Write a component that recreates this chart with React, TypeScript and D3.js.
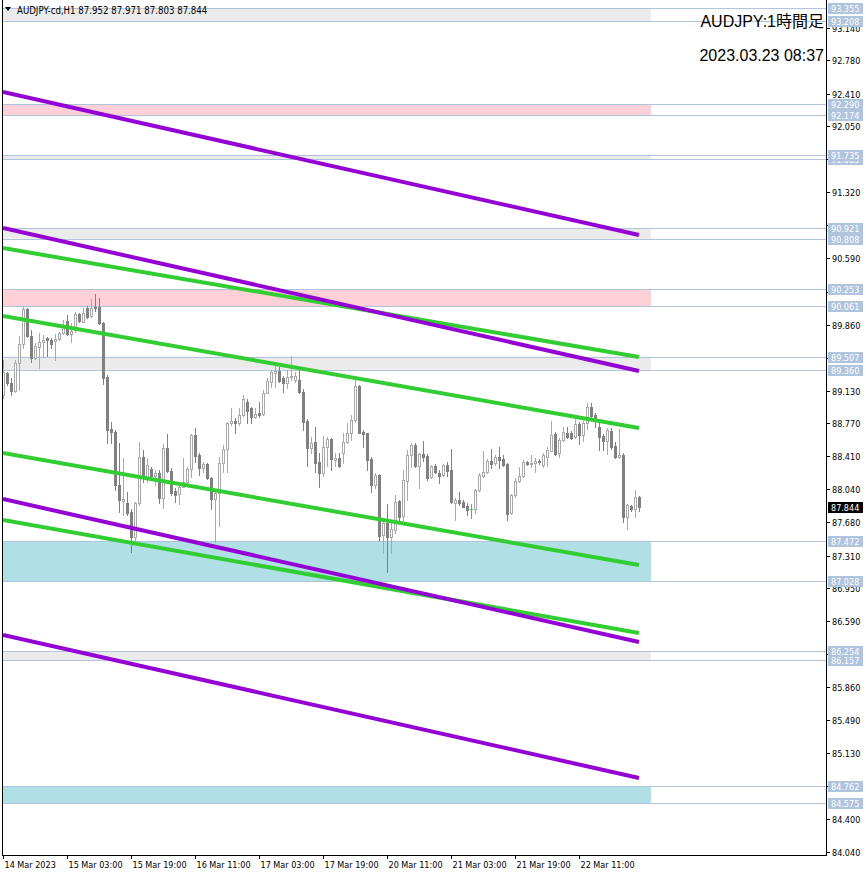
import React from 'react';
import * as d3 from 'd3';

// AUDJPY H1 bars, 14 Mar 11:00 .. 23 Mar 02:00 (server time)
const opens = [
  89.082, 89.322, 89.211, 89.127, 89.432, 89.642, 90.032, 89.738, 89.487, 89.616,
  89.671, 89.708, 89.690, 89.679, 89.701, 89.763, 89.900, 89.752, 89.837, 89.973,
  89.892, 90.039, 89.955, 90.058, 90.058, 89.874, 89.285, 88.707, 88.678, 88.089,
  87.912, 87.887, 87.787, 87.518, 87.887, 88.402, 88.181, 88.265, 88.192, 88.218,
  87.942, 88.494, 88.247, 88.023, 87.990, 88.071, 88.126, 88.262, 88.641, 88.420,
  88.280, 88.317, 88.163, 87.931, 87.997, 88.336, 88.483, 88.770, 88.799, 88.777,
  88.862, 89.009, 88.936, 88.844, 88.880, 88.873, 89.109, 89.230, 89.329, 89.351,
  89.267, 89.212, 89.278, 89.250, 89.248, 89.120, 88.799, 88.494, 88.568, 88.347,
  88.225, 88.505, 88.593, 88.365, 88.383, 88.446, 88.568, 88.660, 88.807, 89.182,
  88.678, 88.660, 88.372, 88.089, 88.199, 87.537, 87.673, 87.518, 87.593, 87.916,
  87.747, 88.137, 88.420, 88.531, 88.299, 88.431, 88.409, 88.174, 88.299, 88.225,
  88.200, 88.310, 88.254, 87.894, 87.924, 87.905, 87.857, 87.824, 87.820, 88.034,
  88.188, 88.236, 88.354, 88.328, 88.402, 88.372, 88.321, 87.776, 87.979, 88.137,
  88.188, 88.347, 88.321, 88.336, 88.358, 88.306, 88.402, 88.468, 88.652, 88.439,
  88.586, 88.667, 88.667, 88.615, 88.763, 88.641, 88.770, 88.954, 88.861, 88.733,
  88.630, 88.579, 88.689, 88.520, 88.395, 88.420, 87.732, 87.857, 87.828, 87.952,
];
const highs = [
  89.469, 89.340, 89.267, 89.469, 89.734, 90.058, 90.047, 89.800, 89.653, 89.763,
  89.745, 89.727, 89.708, 89.752, 89.782, 89.911, 89.966, 89.874, 89.995, 89.984,
  90.039, 90.069, 90.142, 90.194, 90.150, 89.885, 89.303, 88.781, 88.696, 88.549,
  88.383, 88.015, 87.824, 87.905, 88.567, 88.475, 88.383, 88.291, 88.254, 88.254,
  88.538, 88.648, 88.273, 88.052, 88.126, 88.384, 88.292, 88.652, 88.715, 88.439,
  88.347, 88.328, 88.181, 88.027, 88.395, 88.531, 88.788, 88.936, 88.825, 88.936,
  89.083, 89.035, 88.954, 88.936, 89.009, 89.138, 89.267, 89.359, 89.403, 89.396,
  89.293, 89.359, 89.513, 89.340, 89.351, 89.145, 88.814, 88.623, 88.726, 88.439,
  88.630, 88.623, 88.604, 88.439, 88.439, 88.660, 88.770, 88.862, 89.248, 89.193,
  88.696, 88.667, 88.402, 88.218, 88.210, 87.703, 87.879, 87.666, 87.979, 87.923,
  88.255, 88.476, 88.549, 88.549, 88.446, 88.575, 88.431, 88.310, 88.321, 88.255,
  88.321, 88.347, 88.483, 87.942, 88.016, 87.924, 87.894, 87.876, 88.041, 88.218,
  88.465, 88.373, 88.483, 88.420, 88.512, 88.420, 88.336, 87.990, 88.163, 88.292,
  88.365, 88.358, 88.420, 88.384, 88.380, 88.445, 88.505, 88.799, 88.678, 88.604,
  88.726, 88.726, 88.689, 88.814, 88.788, 88.799, 88.991, 88.991, 88.880, 88.814,
  88.652, 88.715, 88.715, 88.568, 88.704, 88.446, 87.879, 87.864, 88.034, 87.971,
];
const lows = [
  89.046, 89.193, 89.083, 89.119, 89.138, 89.598, 89.727, 89.451, 89.480, 89.377,
  89.506, 89.517, 89.598, 89.469, 89.690, 89.752, 89.745, 89.664, 89.774, 89.892,
  89.885, 89.936, 89.947, 90.010, 89.863, 89.200, 88.549, 88.549, 88.034, 87.795,
  87.758, 87.758, 87.353, 87.463, 87.868, 88.126, 88.126, 88.181, 88.089, 87.887,
  87.831, 88.236, 87.979, 87.905, 87.879, 88.063, 88.108, 88.181, 88.347, 88.200,
  88.236, 88.152, 87.820, 87.463, 87.636, 88.236, 88.236, 88.752, 88.660, 88.752,
  88.851, 88.770, 88.777, 88.825, 88.844, 88.862, 89.101, 89.175, 89.175, 89.230,
  89.120, 89.156, 89.248, 89.230, 89.109, 88.696, 88.299, 88.439, 88.236, 88.071,
  88.190, 88.299, 88.255, 88.299, 88.292, 88.328, 88.549, 88.586, 88.788, 88.660,
  88.512, 88.255, 88.015, 88.052, 87.482, 87.335, 87.132, 87.335, 87.556, 87.684,
  87.703, 87.924, 88.284, 88.284, 88.052, 88.358, 88.144, 88.163, 88.225, 88.115,
  88.188, 88.188, 87.887, 87.703, 87.868, 87.843, 87.758, 87.728, 87.776, 88.027,
  88.174, 88.218, 88.273, 88.310, 88.273, 88.299, 87.703, 87.769, 87.960, 88.126,
  88.181, 88.310, 88.284, 88.236, 88.320, 88.290, 88.299, 88.460, 88.420, 88.395,
  88.578, 88.604, 88.593, 88.604, 88.542, 88.579, 88.704, 88.814, 88.726, 88.476,
  88.476, 88.431, 88.483, 88.384, 88.384, 87.684, 87.600, 87.806, 87.732, 87.803,
];
const closes = [
  89.333, 89.211, 89.127, 89.432, 89.646, 90.032, 89.738, 89.487, 89.624, 89.664,
  89.690, 89.690, 89.642, 89.701, 89.763, 89.855, 89.752, 89.789, 89.973, 89.900,
  89.984, 89.947, 90.047, 90.039, 89.874, 89.274, 88.696, 88.678, 88.089, 87.923,
  87.934, 87.776, 87.518, 87.887, 88.402, 88.192, 88.310, 88.192, 88.218, 87.942,
  88.501, 88.247, 88.004, 87.979, 88.071, 88.126, 88.262, 88.641, 88.409, 88.273,
  88.317, 88.163, 87.931, 87.997, 88.336, 88.483, 88.770, 88.796, 88.777, 88.862,
  89.035, 88.910, 88.836, 88.873, 88.862, 89.109, 89.241, 89.340, 89.351, 89.241,
  89.212, 89.278, 89.293, 89.290, 89.120, 88.788, 88.494, 88.557, 88.336, 88.218,
  88.512, 88.593, 88.373, 88.383, 88.299, 88.568, 88.660, 88.807, 89.182, 88.667,
  88.652, 88.365, 88.089, 88.199, 87.526, 87.673, 87.511, 87.600, 87.905, 87.739,
  88.144, 88.420, 88.531, 88.299, 88.431, 88.402, 88.163, 88.299, 88.236, 88.188,
  88.310, 88.247, 87.905, 87.924, 87.894, 87.843, 87.813, 87.824, 88.034, 88.200,
  88.236, 88.354, 88.321, 88.402, 88.365, 88.310, 87.769, 87.979, 88.137, 88.188,
  88.347, 88.321, 88.336, 88.358, 88.342, 88.420, 88.476, 88.641, 88.431, 88.586,
  88.678, 88.623, 88.604, 88.763, 88.641, 88.770, 88.954, 88.851, 88.814, 88.623,
  88.579, 88.696, 88.512, 88.395, 88.420, 87.732, 87.868, 87.828, 87.952, 87.844,
];

const xTickLabels = [
  '14 Mar 2023', '15 Mar 03:00', '15 Mar 19:00', '16 Mar 11:00', '17 Mar 03:00',
  '17 Mar 19:00', '20 Mar 11:00', '21 Mar 03:00', '21 Mar 19:00', '22 Mar 11:00',
];
const xTickBars = [0, 16, 32, 48, 64, 80, 96, 112, 128, 144];

const yTickLabels = [
  '93.140', '92.780', '92.410', '92.050', '91.685', '91.320', '90.955', '90.590',
  '90.225', '89.860', '89.495', '89.130', '88.770', '88.410', '88.040', '87.680',
  '87.310', '86.950', '86.590', '86.225', '85.860', '85.490', '85.130', '84.765',
  '84.400', '84.040',
];

// horizontal zones: top / bottom price and kind
const zoneTops = [93.355, 92.290, 91.735, 90.921, 90.253, 89.507, 87.472, 86.254, 84.762];
const zoneBottoms = [93.208, 92.174, 91.685, 90.808, 90.061, 89.360, 87.028, 86.157, 84.575];
const zoneKinds = ['line', 'sell', 'line', 'line', 'sell', 'line', 'buy', 'line', 'buy'];
const zoneEndBar = 162;

// trend lines: price at first bar and at last bar
const purpleStart = [92.428, 90.926, 87.934, 86.432];
const purpleEnd = [90.849, 89.347, 86.355, 84.854];
const greenStart = [90.705, 89.955, 88.442, 87.702];
const greenEnd = [89.501, 88.718, 87.205, 86.454];

const title = 'AUDJPY:1時間足';
const stamp = '2023.03.23 08:37';
const symbol = 'AUDJPY-cd,H1';

const W = 866;
const H = 876;
const plotL = 2;
const plotR = 826;
const plotB = 855;
const axisFont = '"DejaVu Sans Condensed", "DejaVu Sans", sans-serif';
const titleFont = '"Liberation Sans", "Noto Sans CJK JP", sans-serif';

const zoneFill: Record<string, string> = { line: '#ebebeb', sell: '#ffd0d8', buy: '#b0dfe5' };

const App: React.FC = () => {
  const n = opens.length;
  const x = d3.scaleLinear().domain([0, n - 1]).range([3, 3 + 4 * (n - 1)]);
  const y = d3.scaleLinear().domain([84.04, 93.14]).range([851.7, 27.5]);
  const ry = (p: number) => Math.round(y(p));

  const bars = opens.map((o, i) => ({ i, o, h: highs[i], l: lows[i], c: closes[i] }));
  const last = bars[n - 1];

  const levels: { p: number; bottom: boolean }[] = [];
  zoneBottoms.forEach((p) => levels.push({ p, bottom: true }));
  zoneTops.forEach((p) => levels.push({ p, bottom: false }));
  const levelYs = levels.map((lv) => ry(lv.p));
  // a tick label sitting right under a level box is not visible in the terminal
  const covered = (ty: number) => levelYs.some((ly) => Math.abs(ly - ty) < 4);

  const trend = (s: number[], e: number[], color: string) =>
    s.map((p, k) => (
      <line key={color + k} x1={x(0)} y1={y(p)} x2={x(n - 1)} y2={y(e[k])}
        stroke={color} strokeWidth={4} />
    ));

  return (
    <svg width={W} height={H} style={{ position: 'absolute', left: 0, top: 0, background: '#fff' }}>
      <defs>
        <clipPath id="plot">
          <rect x={plotL + 1} y={0} width={plotR - plotL - 1} height={plotB} />
        </clipPath>
      </defs>

      <g clipPath="url(#plot)">
        {zoneTops.map((t, k) => (
          <rect key={'z' + k} x={plotL} y={y(t)} width={x(zoneEndBar) - plotL}
            height={y(zoneBottoms[k]) - y(t)} fill={zoneFill[zoneKinds[k]]} />
        ))}
        {levels.map((lv, k) => (
          <line key={'l' + k} x1={plotL} x2={plotR} y1={ry(lv.p) + 0.5} y2={ry(lv.p) + 0.5}
            stroke="#b0c4de" strokeWidth={1} />
        ))}

        {bars.map((b) => {
          const cx = Math.round(x(b.i));
          const bull = b.c > b.o;
          const doji = b.c === b.o;
          const col = doji ? '#32cd32' : bull ? '#a9a9a9' : '#808080';
          const yo = ry(b.o);
          const yc = ry(b.c);
          return (
            <g key={'b' + b.i}>
              <line x1={cx + 0.5} x2={cx + 0.5} y1={ry(b.h)} y2={ry(b.l) + 1} stroke={col} />
              {doji ? (
                <line x1={cx - 1} x2={cx + 2} y1={yo + 0.5} y2={yo + 0.5} stroke={col} />
              ) : bull ? (
                <rect x={cx - 0.5} y={yc + 0.5} width={2} height={Math.max(0, yo - yc)}
                  fill="#fff" stroke={col} />
              ) : (
                <rect x={cx - 1} y={yo} width={3} height={Math.max(1, yc - yo + 1)} fill={col} />
              )}
            </g>
          );
        })}

        {trend(greenStart, greenEnd, '#32cd32')}
        {trend(purpleStart, purpleEnd, '#9400d3')}
      </g>

      {/* frame */}
      <line x1={plotL + 0.5} x2={plotL + 0.5} y1={0} y2={plotB} stroke="#000" />
      <line x1={plotR + 0.5} x2={plotR + 0.5} y1={0} y2={plotB + 1} stroke="#000" />
      <line x1={plotL} x2={plotR + 1} y1={plotB + 0.5} y2={plotB + 0.5} stroke="#000" />

      {/* price axis */}
      {yTickLabels.map((t) => {
        const ty = ry(+t);
        return (
          <g key={'yt' + t}>
            <line x1={plotR} x2={plotR + 4} y1={ty + 0.5} y2={ty + 0.5} stroke="#000" />
            {!covered(ty) && (
              <text x={plotR + 6} y={ty + 4} fontSize={9} fontFamily={axisFont} fill="#000">{t}</text>
            )}
          </g>
        );
      })}
      {levels.map((lv, k) => {
        const ty = ry(lv.p);
        return (
          <g key={'zl' + k}>
            <rect x={plotR + 2} y={ty - 5} width={35} height={11} fill="#b0c4de" />
            <text x={plotR + 5} y={ty + 4} fontSize={9} fontFamily={axisFont} fill="#fff">
              {lv.p.toFixed(3)}
            </text>
          </g>
        );
      })}
      <rect x={plotR + 2} y={ry(last.c) - 5} width={35} height={11} fill="#000" />
      <text x={plotR + 5} y={ry(last.c) + 4} fontSize={9} fontFamily={axisFont} fill="#fff">
        {last.c.toFixed(3)}
      </text>

      {/* time axis */}
      {xTickBars.map((bi, k) => {
        const tx = Math.round(x(bi));
        return (
          <g key={'xt' + k}>
            <line x1={tx + 0.5} x2={tx + 0.5} y1={plotB} y2={plotB + 4} stroke="#000" />
            <text x={tx + 1.5} y={plotB + 13} fontSize={9} fontFamily={axisFont} fill="#000">
              {xTickLabels[k]}
            </text>
          </g>
        );
      })}

      {/* header */}
      <path d="M5,7 L11,7 L8,11 Z" fill="#000" />
      <text x={17} y={14} fontSize={9.6} fontFamily={axisFont} fill="#000">
        {`${symbol}  ${last.o.toFixed(3)} ${last.h.toFixed(3)} ${last.l.toFixed(3)} ${last.c.toFixed(3)}`}
      </text>

      <text x={824} y={27} textAnchor="end" fontSize={16} fontFamily={titleFont} fill="#000">{title}</text>
      <text x={824} y={61} textAnchor="end" fontSize={16} fontFamily={titleFont} fill="#000">{stamp}</text>
    </svg>
  );
};

export default App;
